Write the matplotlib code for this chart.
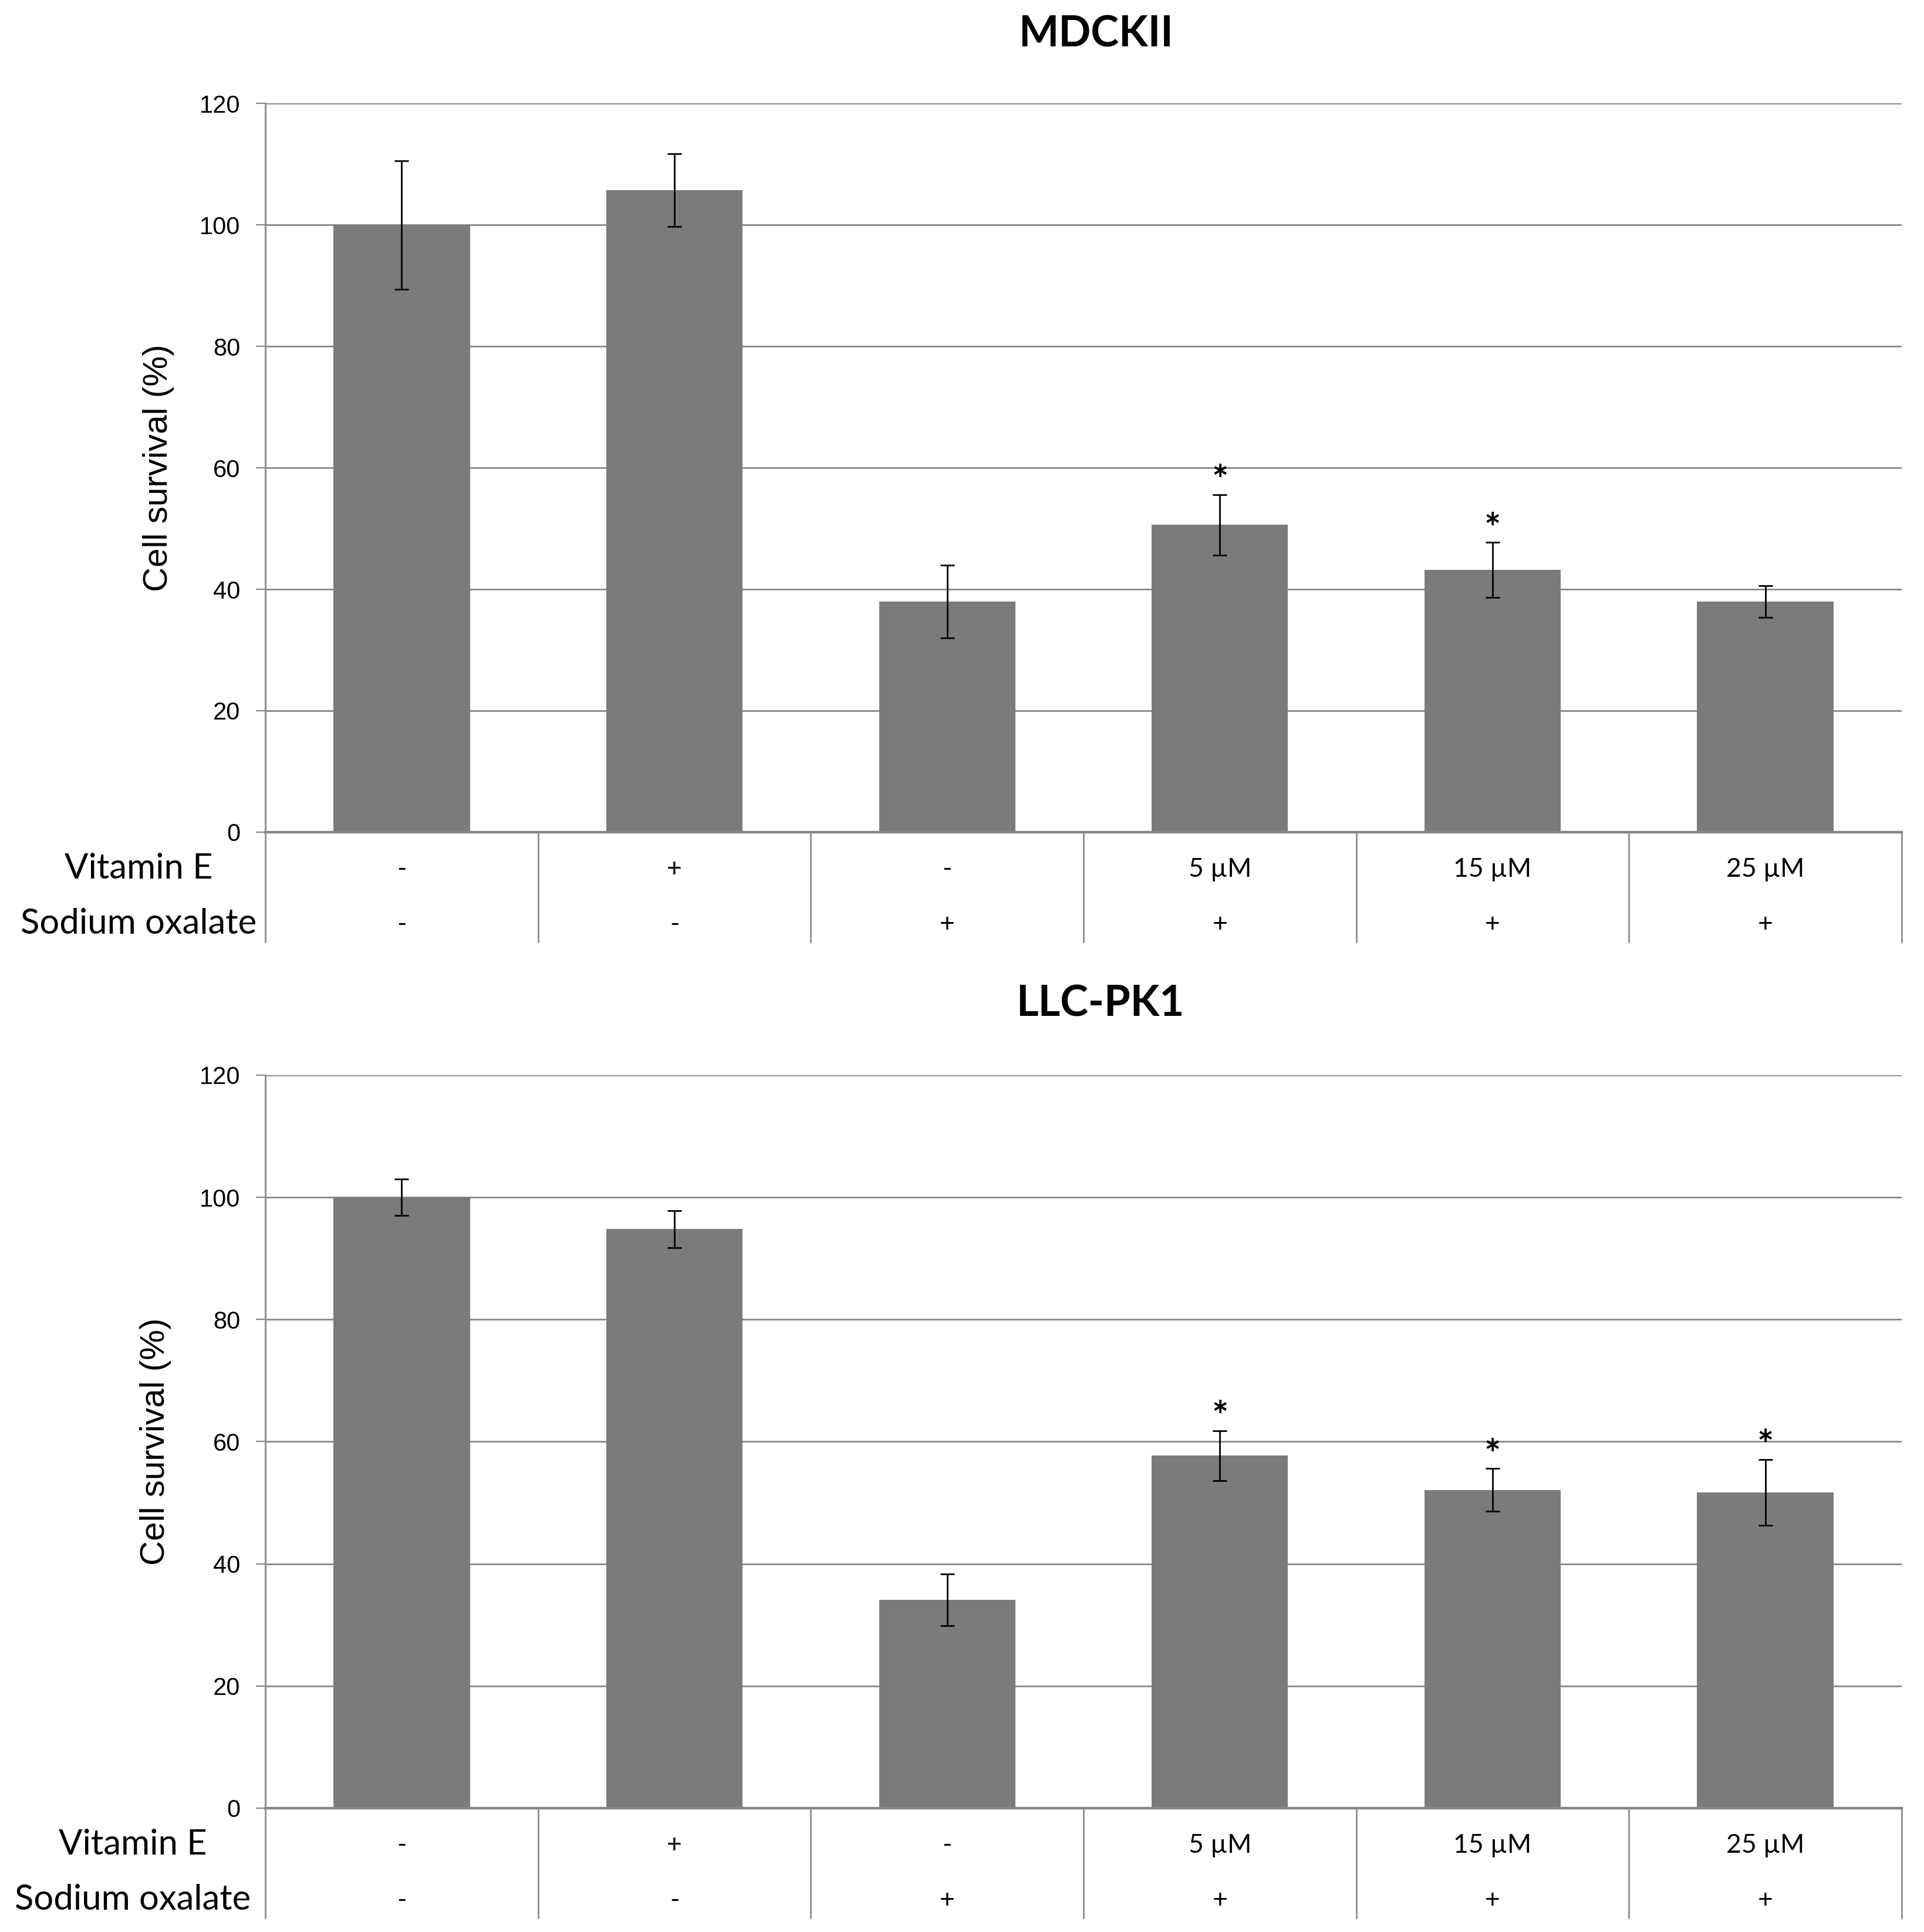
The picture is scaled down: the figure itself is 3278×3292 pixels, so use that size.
import numpy as np
import matplotlib
matplotlib.use('Agg')
import matplotlib.pyplot as plt
from matplotlib.transforms import blended_transform_factory

# table rows under the bars
vitamin_e = ['-', '+', '-', '5 µM', '15 µM', '25 µM']
sodium_oxalate = ['-', '-', '+', '+', '+', '+']

# cell survival (%) with error bars
mdck_mean = [100, 105.7, 38.0, 50.6, 43.2, 38.0]
mdck_err = [10.6, 6.0, 6.0, 5.0, 4.5, 2.6]
mdck_sig = [False, False, False, True, True, False]

llc_mean = [100, 94.8, 34.1, 57.7, 52.1, 51.7]
llc_err = [3.0, 3.0, 4.2, 4.1, 3.5, 5.4]
llc_sig = [False, False, False, True, True, True]

yticks = [0, 20, 40, 60, 80, 100, 120]

W, H = 3278, 3292
fig = plt.figure(figsize=(W / 100, H / 100), dpi=100)

bar_color = '#7b7b7b'
grid_color = '#878787'
calibri = 'Lato'   # stands in for Calibri
arial = 'Liberation Sans'


def draw_panel(rect, title, means, errs, sig, title_xy, ylabel_x, row_label_x):
    ax = fig.add_axes(rect)
    x = np.arange(len(means))
    ax.bar(x, means, width=0.5, color=bar_color, zorder=3)
    ax.errorbar(x, means, yerr=errs, fmt='none', ecolor='black', elinewidth=2.0,
                capsize=8.5, capthick=2.0, zorder=4)
    for xi, m, e, s in zip(x, means, errs, sig):
        if s:
            ax.annotate('*', (xi, m + e), xytext=(0, 1), textcoords='offset points',
                        ha='center', va='baseline', fontsize=48, fontfamily=calibri,
                        fontweight='bold', zorder=5)

    ax.set_xlim(-0.5, len(means) - 0.5)
    ax.set_ylim(0, 120)
    ax.set_yticks(yticks)
    ax.set_yticklabels([str(t) for t in yticks], fontsize=30, fontfamily=arial)
    ax.set_xticks([])
    ax.yaxis.grid(True, color=grid_color, linewidth=2.0, zorder=0)
    ax.set_axisbelow(True)
    ax.tick_params(axis='y', length=11.5, width=1.6, color=grid_color, pad=19)
    for side in ['top', 'right']:
        ax.spines[side].set_visible(False)
    ax.spines['left'].set_color(grid_color)
    ax.spines['left'].set_linewidth(2.0)
    ax.spines['bottom'].set_color(grid_color)
    ax.spines['bottom'].set_linewidth(3.2)
    ax.spines['bottom'].set_zorder(6)

    # table under the axis
    hpx = rect[3] * H
    trans = blended_transform_factory(ax.transData, ax.transAxes)
    for b in np.arange(-0.5, len(means), 1.0):
        ax.plot([b, b], [0, -187 / hpx], transform=trans, color=grid_color,
                linewidth=1.9, clip_on=False)
    for xi in x:
        ax.text(xi, -64 / hpx, vitamin_e[xi], transform=trans, ha='center', va='center',
                fontsize=32, fontfamily=calibri)
        ax.text(xi, -158 / hpx, sodium_oxalate[xi], transform=trans, ha='center', va='center',
                fontsize=32, fontfamily=calibri)
    ltrans = blended_transform_factory(fig.transFigure, ax.transAxes)
    ax.text(row_label_x, -62 / hpx, 'Vitamin E', transform=ltrans, ha='center', va='center',
            fontsize=43, fontfamily=calibri)
    ax.text(row_label_x, -156 / hpx, 'Sodium oxalate', transform=ltrans, ha='center', va='center',
            fontsize=43, fontfamily=calibri)

    fig.text(title_xy[0], title_xy[1], title, ha='center', va='baseline',
             fontsize=52, fontweight='bold', fontfamily=calibri)
    fig.text(ylabel_x, rect[1] + rect[3] / 2, 'Cell survival (%)', rotation=90,
             ha='right', va='center', fontsize=42, fontfamily=arial)
    return ax


draw_panel([0.1379, 0.5693, 0.8505, 0.3771], 'MDCKII', mdck_mean, mdck_err, mdck_sig,
           (0.5696, 0.976), 0.0906, 0.072)
draw_panel([0.1379, 0.0641, 0.8505, 0.3794], 'LLC-PK1', llc_mean, llc_err, llc_sig,
           (0.5717, 0.474), 0.089, 0.069)

fig.savefig('out.png', dpi=100)
